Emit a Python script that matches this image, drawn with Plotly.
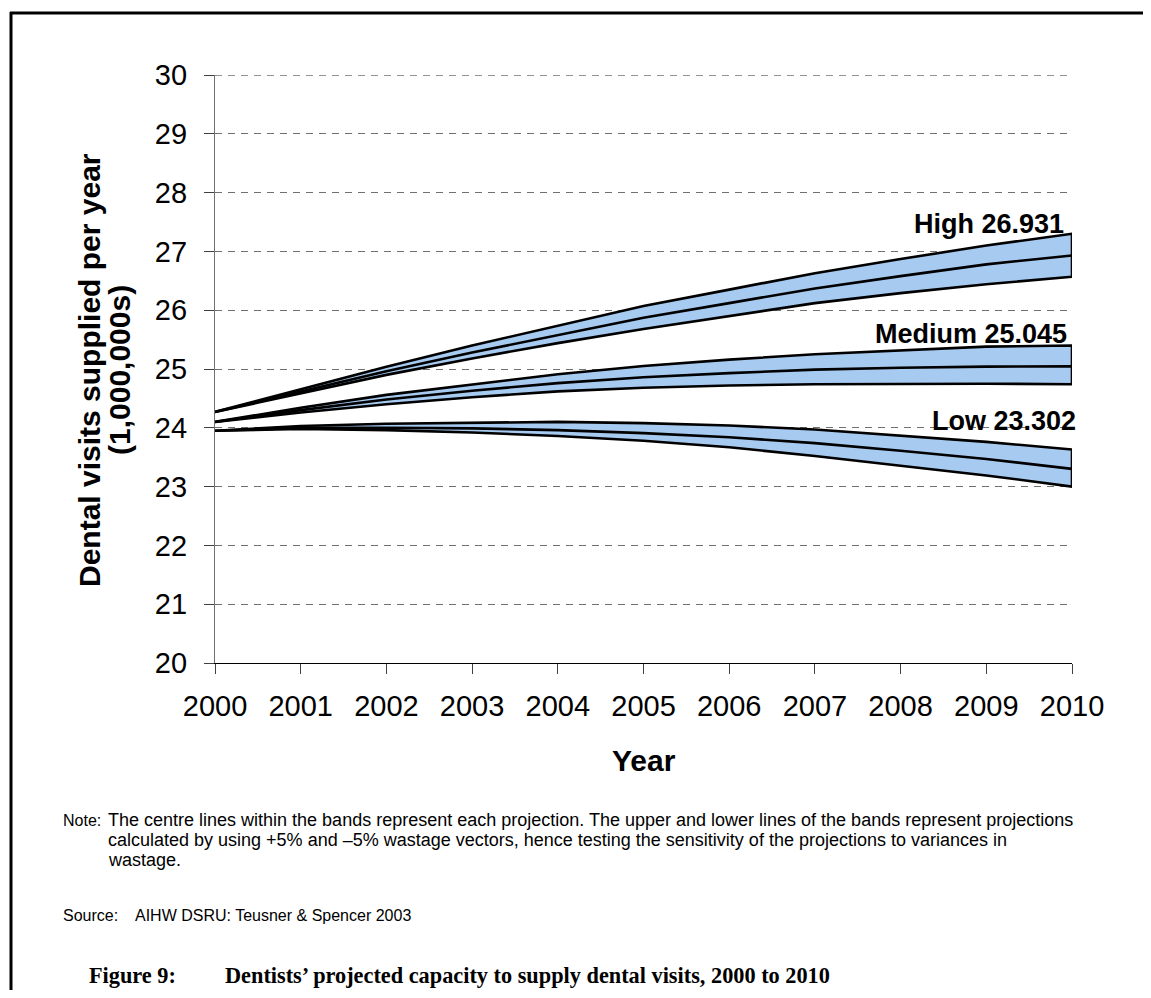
import plotly.graph_objects as go

years = [2000, 2001, 2002, 2003, 2004, 2005, 2006, 2007, 2008, 2009, 2010]

high_centre = [24.27, 24.62, 24.96, 25.28, 25.58, 25.87, 26.12, 26.37, 26.58, 26.78, 26.931]
high_upper = [24.27, 24.66, 25.04, 25.40, 25.73, 26.07, 26.35, 26.63, 26.87, 27.10, 27.30]
high_lower = [24.27, 24.59, 24.90, 25.18, 25.44, 25.68, 25.90, 26.12, 26.29, 26.44, 26.57]

med_centre = [24.10, 24.30, 24.48, 24.63, 24.76, 24.86, 24.93, 24.99, 25.02, 25.04, 25.045]
med_upper = [24.10, 24.34, 24.56, 24.74, 24.91, 25.05, 25.16, 25.25, 25.32, 25.38, 25.40]
med_lower = [24.10, 24.26, 24.40, 24.52, 24.62, 24.68, 24.72, 24.74, 24.75, 24.75, 24.74]

low_centre = [23.95, 24.00, 24.00, 23.99, 23.96, 23.91, 23.84, 23.74, 23.61, 23.47, 23.302]
low_upper = [23.95, 24.03, 24.07, 24.09, 24.10, 24.08, 24.04, 23.97, 23.87, 23.76, 23.63]
low_lower = [23.95, 23.98, 23.96, 23.92, 23.86, 23.78, 23.67, 23.52, 23.36, 23.19, 23.00]

labels = ["High 26.931", "Medium 25.045", "Low 23.302"]

BAND = "#A6CAF0"
LW = 2.6
fig = go.Figure()

for up, lo, ce in [(high_upper, high_lower, high_centre),
                   (med_upper, med_lower, med_centre),
                   (low_upper, low_lower, low_centre)]:
    fig.add_trace(go.Scatter(
        x=years + years[::-1], y=up + lo[::-1], mode="lines",
        fill="toself", fillcolor=BAND,
        line=dict(color="black", width=LW), hoverinfo="skip", showlegend=False))
    fig.add_trace(go.Scatter(
        x=years, y=ce, mode="lines",
        line=dict(color="black", width=LW), showlegend=False))

AX_FONT = dict(family="Liberation Sans, Arial, sans-serif", size=29, color="black")
GRID_COLOR = "#707070"
GRID_DASH = "7px,6px"

# the page body adds an 8px offset, so the figure is sized to fit the window exactly
fig.update_layout(
    width=1143, height=982,
    margin=dict(l=207, r=79, t=67, b=327),
    paper_bgcolor="white", plot_bgcolor="white",
    showlegend=False,
    xaxis=dict(range=[2000, 2010], dtick=1, tick0=2000, showgrid=False,
               showline=True, linecolor="black", linewidth=1.3,
               ticks="outside", ticklen=10, tickcolor="#404040", tickwidth=1.3,
               tickfont=AX_FONT, ticklabelstandoff=7, zeroline=False),
    yaxis=dict(range=[20, 30], dtick=1, tick0=20, showgrid=True,
               gridcolor=GRID_COLOR, gridwidth=1.3, griddash=GRID_DASH,
               showline=True, linecolor="#707070", linewidth=1.3,
               ticks="outside", ticklen=10, tickcolor="#404040", tickwidth=1.3,
               tickfont=AX_FONT, ticklabelstandoff=11, zeroline=False),
)

# top gridline (at the range edge)
fig.add_shape(type="line", xref="paper", yref="y", x0=0, x1=1, y0=30, y1=30,
              line=dict(color=GRID_COLOR, width=1.3, dash=GRID_DASH), layer="below")


def px2x(px):
    return (px - 215) / 857


def py2y(py):
    return (663 - py) / 588


label_pos = [(1066, 27.47), (1069, 25.6), (1078, 24.12)]
for txt, (px, yv) in zip(labels, label_pos):
    fig.add_annotation(text="<b>" + txt + "</b>", xref="paper", yref="y",
                       x=px2x(px), y=yv, xanchor="right", yanchor="middle",
                       showarrow=False,
                       font=dict(family="Liberation Sans, Arial, sans-serif", size=27, color="black"))

TITLE_FONT = dict(family="Liberation Sans, Arial, sans-serif", size=30, color="black")
fig.add_annotation(text="<b>Year</b>", xref="paper", yref="paper", x=px2x(644), y=py2y(760),
                   xanchor="center", yanchor="middle", showarrow=False, font=TITLE_FONT)
fig.add_annotation(text="<b>Dental visits supplied per year</b>", xref="paper", yref="paper",
                   x=px2x(89), y=py2y(370), textangle=-90, xanchor="center", yanchor="middle",
                   showarrow=False, font=TITLE_FONT)
fig.add_annotation(text="<b>(1,000,000s)</b>", xref="paper", yref="paper",
                   x=px2x(119), y=py2y(370), textangle=-90, xanchor="center", yanchor="middle",
                   showarrow=False, font=TITLE_FONT)

NOTE_FONT = dict(family="Liberation Sans, Arial, sans-serif", size=18, color="black")
LABEL_FONT = dict(family="Liberation Sans, Arial, sans-serif", size=16, color="black")
note_lines = [
    "The centre lines within the bands represent each projection. The upper and lower lines of the bands represent projections",
    "calculated by using +5% and \u20135% wastage vectors, hence testing the sensitivity of the projections to variances in",
    "wastage.",
]
fig.add_annotation(text="Note:", xref="paper", yref="paper", x=px2x(61), y=py2y(820),
                   xanchor="left", yanchor="middle", showarrow=False, font=LABEL_FONT)
for i, line in enumerate(note_lines):
    fig.add_annotation(text=line, xref="paper", yref="paper", x=px2x(106), y=py2y(820 + 20 * i),
                       xanchor="left", yanchor="middle", showarrow=False, font=NOTE_FONT)
fig.add_annotation(text="Source:", xref="paper", yref="paper", x=px2x(61), y=py2y(916),
                   xanchor="left", yanchor="middle", showarrow=False, font=LABEL_FONT)
fig.add_annotation(text="AIHW DSRU: Teusner &amp; Spencer 2003", xref="paper", yref="paper",
                   x=px2x(133), y=py2y(916), xanchor="left", yanchor="middle",
                   showarrow=False, font=LABEL_FONT)

CAP_FONT = dict(family="Liberation Serif, Times New Roman, serif", size=22.3, color="black")
fig.add_annotation(text="<b>Figure 9:</b>", xref="paper", yref="paper", x=px2x(87), y=py2y(975),
                   xanchor="left", yanchor="middle", showarrow=False, font=CAP_FONT)
fig.add_annotation(text="<b>Dentists\u2019 projected capacity to supply dental visits, 2000 to 2010</b>",
                   xref="paper", yref="paper", x=px2x(223), y=py2y(975),
                   xanchor="left", yanchor="middle", showarrow=False, font=CAP_FONT)

# page frame lines
fig.add_shape(type="line", xref="paper", yref="paper", x0=px2x(10), x1=px2x(1160),
              y0=py2y(13), y1=py2y(13), line=dict(color="black", width=3))
fig.add_shape(type="line", xref="paper", yref="paper", x0=px2x(11), x1=px2x(11),
              y0=py2y(12), y1=py2y(1005), line=dict(color="black", width=3))

fig.write_html("out.html")
